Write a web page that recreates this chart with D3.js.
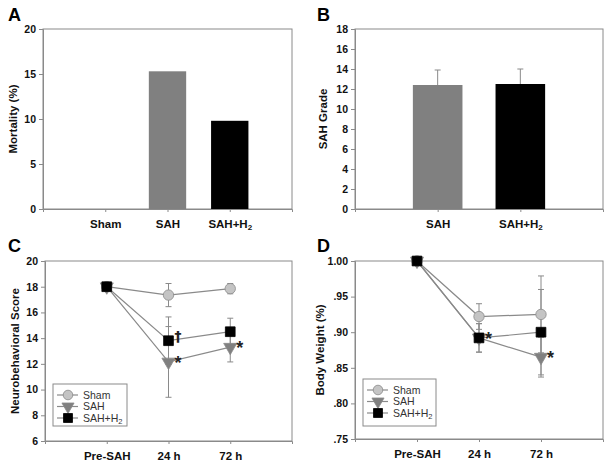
<!DOCTYPE html>
<html>
<head>
<meta charset="utf-8">
<script src="https://cdn.jsdelivr.net/npm/d3@7.9.0/dist/d3.min.js"></script>
<style>
  body { margin: 0; background: #fff; }
  svg { display: block; font-family: Arial, "Liberation Sans", sans-serif; }
</style>
</head>
<body>
<svg id="fig" width="612" height="465"></svg>
<script>
// ------- data -------
const mortGroups = ['Sham', 'SAH', 'SAH+H2'];
const mortValues = [0, 15.3, 9.8];

const gradeGroups = ['SAH', 'SAH+H2'];
const gradeValues = [12.4, 12.5];
const gradeErr    = [1.5, 1.5];

const timePoints = ['Pre-SAH', '24 h', '72 h'];
const seriesNames = ['Sham', 'SAH', 'SAH+H2'];

const neuroMean = [[18, 17.35, 17.85], [18, 12.15, 13.3], [18, 13.8, 14.5]];
const neuroErr  = [[0, 0.9, 0.4], [0, 2.75, 1.15], [0, 1.85, 1.05]];
const neuroMarks = [{ t: '24 h', s: 1, text: '*' }, { t: '72 h', s: 1, text: '*' }, { t: '24 h', s: 2, text: '†' }];

const weightMean = [[1.0, 0.922, 0.925], [1.0, 0.892, 0.865], [1.0, 0.892, 0.900]];
const weightErr  = [[0, 0.018, 0.054], [0, 0.02, 0.028], [0, 0.02, 0.06]];
const weightMarks = [{ t: '24 h', s: 1, text: '*' }, { t: '72 h', s: 1, text: '*' }];

const barColors = { 'Sham': '#808080', 'SAH': '#808080', 'SAH+H2': '#000000' };
const axisGray = '#8a8a8a';

const svg = d3.select('#fig');

// label with a subscript 2 for "H2"
function labelText(sel, str, sub = 8) {
  const m = str.match(/^(.*H)2$/);
  if (!m) { sel.text(str); return; }
  sel.text(null);
  sel.append('tspan').text(m[1]);
  sel.append('tspan').attr('font-size', sub).attr('dy', 2).text('2');
}

function frame(g, box) {
  g.append('rect')
    .attr('x', box.left).attr('y', box.top)
    .attr('width', box.right - box.left).attr('height', box.bottom - box.top)
    .attr('fill', 'none').attr('stroke', axisGray).attr('stroke-width', 1);
}

function yAxis(g, box, y, ticks, fmt) {
  const ax = g.append('g')
    .attr('transform', `translate(${box.left},0)`)
    .call(d3.axisLeft(y).tickValues(ticks).tickFormat(fmt).tickSize(4).tickPadding(3));
  ax.select('.domain').attr('stroke', axisGray);
  ax.selectAll('.tick line').attr('stroke', axisGray);
  ax.selectAll('.tick text').attr('font-size', 10.5).attr('font-weight', 'bold').attr('fill', '#111');
}

function xAxis(g, box, x) {
  const ax = g.append('g')
    .attr('transform', `translate(0,${box.bottom})`)
    .call(d3.axisBottom(x).tickSize(3).tickPadding(8));
  ax.select('.domain').attr('stroke', axisGray);
  ax.selectAll('.tick line').attr('stroke', axisGray);
  ax.selectAll('.tick text').attr('font-size', 11.5).attr('font-weight', 'bold').attr('fill', '#111')
    .each(function (d) { labelText(d3.select(this), d); });
}

function yTitle(g, x, box, text) {
  g.append('text')
    .attr('transform', `translate(${x},${(box.top + box.bottom) / 2}) rotate(-90)`)
    .attr('text-anchor', 'middle').attr('dy', '0.35em')
    .attr('font-size', 11.5).attr('font-weight', 'bold').attr('fill', '#111')
    .text(text);
}

function panelLetter(g, x, y, letter) {
  g.append('text').attr('x', x).attr('y', y)
    .attr('font-size', 18).attr('font-weight', 'bold').attr('fill', '#000').text(letter);
}

// ------- bar panels -------
function barPanel(opts) {
  const { box, groups, values, errs, domain, ticks, title, titleX, letter, letterPos } = opts;
  const g = svg.append('g');
  const x = d3.scalePoint().domain(groups).range([box.left, box.right]).padding(1);
  const y = d3.scaleLinear().domain(domain).range([box.bottom, box.top]);
  const bw = x.step() * 0.6;

  frame(g, box);

  if (errs) {
    g.append('g').selectAll('g')
      .data(groups.map((k, i) => ({ k, v: values[i], e: errs[i] })))
      .join('g')
      .each(function (d) {
        const s = d3.select(this);
        s.append('line').attr('x1', x(d.k)).attr('x2', x(d.k))
          .attr('y1', y(d.v)).attr('y2', y(d.v + d.e)).attr('stroke', axisGray);
        s.append('line').attr('x1', x(d.k) - 3).attr('x2', x(d.k) + 3)
          .attr('y1', y(d.v + d.e)).attr('y2', y(d.v + d.e)).attr('stroke', axisGray);
      });
  }

  g.append('g').selectAll('rect')
    .data(groups.map((k, i) => ({ k, v: values[i] })).filter(d => d.v > 0))
    .join('rect')
    .attr('x', d => x(d.k) - bw / 2)
    .attr('y', d => y(d.v))
    .attr('width', bw)
    .attr('height', d => y(0) - y(d.v))
    .attr('fill', d => barColors[d.k]);

  yAxis(g, box, y, ticks, d3.format('d'));
  xAxis(g, box, x);
  yTitle(g, titleX, box, title);
  panelLetter(g, letterPos[0], letterPos[1], letter);
}

barPanel({
  box: { left: 43, right: 292, top: 29, bottom: 209 },
  groups: mortGroups, values: mortValues, errs: null,
  domain: [0, 20], ticks: d3.range(0, 21, 5),
  title: 'Mortality (%)', titleX: 13, letter: 'A', letterPos: [8, 21]
});

barPanel({
  box: { left: 355, right: 603, top: 29, bottom: 209 },
  groups: gradeGroups, values: gradeValues, errs: gradeErr,
  domain: [0, 18], ticks: d3.range(0, 19, 2),
  title: 'SAH Grade', titleX: 323, letter: 'B', letterPos: [317, 21]
});

// ------- line panels -------
const markerStyle = [
  { type: d3.symbolCircle, size: 85, fill: '#c4c4c4', stroke: '#8a8a8a' },
  { type: d3.symbolTriangle, size: 75, fill: '#808080', stroke: '#8a8a8a', flip: true },
  { type: d3.symbolSquare, size: 95, fill: '#000000', stroke: '#000000' }
];

function drawMarker(g, x, y, st, scale = 1) {
  g.append('path')
    .attr('d', d3.symbol().type(st.type).size(st.size * scale)())
    .attr('transform', `translate(${x},${y})${st.flip ? ' rotate(180)' : ''}`)
    .attr('fill', st.fill).attr('stroke', st.stroke).attr('stroke-width', 0.8);
}

function linePanel(opts) {
  const { box, means, errs, domain, ticks, fmt, title, titleX, letter, letterPos, marks, legendBox } = opts;
  const g = svg.append('g');
  const x = d3.scalePoint().domain(timePoints).range([box.left, box.right]).padding(1);
  const y = d3.scaleLinear().domain(domain).range([box.bottom, box.top]);

  frame(g, box);

  // error bars
  means.forEach((row, s) => {
    row.forEach((m, i) => {
      const e = errs[s][i];
      if (!e) return;
      const cx = x(timePoints[i]);
      g.append('line').attr('x1', cx).attr('x2', cx)
        .attr('y1', y(m - e)).attr('y2', y(m + e)).attr('stroke', axisGray);
      [m - e, m + e].forEach(v => {
        g.append('line').attr('x1', cx - 3).attr('x2', cx + 3)
          .attr('y1', y(v)).attr('y2', y(v)).attr('stroke', axisGray);
      });
    });
  });

  // lines
  const line = d3.line().x((d, i) => x(timePoints[i])).y(d => y(d));
  means.forEach(row => {
    g.append('path').attr('d', line(row)).attr('fill', 'none')
      .attr('stroke', axisGray).attr('stroke-width', 1.2);
  });

  // markers
  means.forEach((row, s) => {
    row.forEach((m, i) => drawMarker(g, x(timePoints[i]), y(m), markerStyle[s]));
  });

  // significance marks
  marks.forEach(mk => {
    const m = means[mk.s][timePoints.indexOf(mk.t)];
    const dag = mk.text === '†';
    g.append('text')
      .attr('x', x(mk.t) + (dag ? 6 : 6)).attr('y', y(m) + (dag ? 0 : 7))
      .attr('font-family', dag ? '"DejaVu Sans", sans-serif' : null)
      .attr('font-size', dag ? 14 : 18).attr('font-weight', 'bold').attr('fill', '#222')
      .text(mk.text);
  });

  yAxis(g, box, y, ticks, fmt);
  xAxis(g, box, x);
  yTitle(g, titleX, box, title);
  panelLetter(g, letterPos[0], letterPos[1], letter);

  // legend
  const lg = g.append('g');
  lg.append('rect')
    .attr('x', legendBox.x).attr('y', legendBox.y)
    .attr('width', legendBox.w).attr('height', legendBox.h)
    .attr('fill', '#fff').attr('stroke', axisGray);
  seriesNames.forEach((name, s) => {
    const ly = legendBox.y + 11 + s * 11.5;
    const lx = legendBox.x + 4;
    lg.append('line').attr('x1', lx).attr('x2', lx + 21).attr('y1', ly).attr('y2', ly)
      .attr('stroke', axisGray).attr('stroke-width', 1.2);
    drawMarker(lg, lx + 11, ly, markerStyle[s], 0.85);
    const t = lg.append('text').attr('x', lx + 26).attr('y', ly).attr('dy', '0.35em')
      .attr('font-size', 10.5).attr('fill', '#333');
    labelText(t, name, 7.5);
  });
}

linePanel({
  box: { left: 45, right: 292, top: 261, bottom: 441 },
  means: neuroMean, errs: neuroErr,
  domain: [6, 20], ticks: d3.range(6, 21, 2), fmt: d3.format('d'),
  title: 'Neurobehavioral Score', titleX: 15, letter: 'C', letterPos: [8, 252],
  marks: neuroMarks,
  legendBox: { x: 53, y: 384, w: 74, h: 42 }
});

linePanel({
  box: { left: 355, right: 603, top: 261, bottom: 439 },
  means: weightMean, errs: weightErr,
  domain: [0.75, 1.0], ticks: d3.range(0.75, 1.001, 0.05),
  fmt: d => d >= 0.999 ? '1.00' : d3.format('.2f')(d).replace(/^0/, ''),
  title: 'Body Weight (%)', titleX: 320, letter: 'D', letterPos: [317, 252],
  marks: weightMarks,
  legendBox: { x: 363, y: 379, w: 73, h: 47 }
});
</script>
</body>
</html>
